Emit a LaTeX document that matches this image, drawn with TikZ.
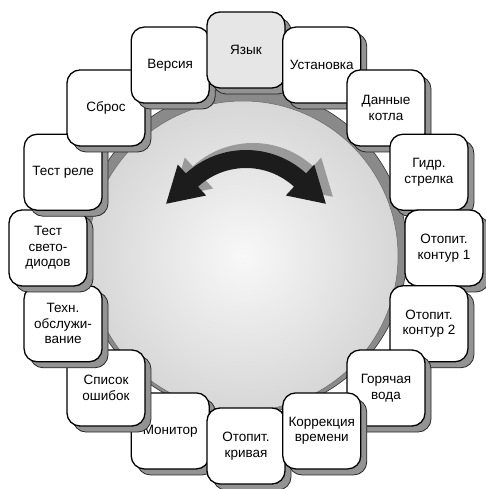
\documentclass[tikz,border=0pt]{standalone}
\usepackage{fontspec}
\setmainfont{Liberation Sans}
\usepackage{tikz}
\usetikzlibrary{arrows.meta, positioning, shadows}
\definecolor{dialCore}{HTML}{F8F8F8}
\definecolor{dialMid}{HTML}{D0D0D0}
\definecolor{dialEdge}{HTML}{A4A4A4}
\definecolor{bezelGray}{HTML}{8A8A8A}
\definecolor{boxShadow}{HTML}{939393}
\definecolor{langFill}{HTML}{E6E6E6}
\definecolor{turnInk}{HTML}{1C1C1C}
\definecolor{turnShadow}{HTML}{9A9A9A}
\pgfdeclareradialshading{dialshade}{\pgfpoint{0bp}{0bp}}{%
  color(0bp)=(dialCore); color(30bp)=(dialMid); color(50bp)=(dialEdge)}

\begin{document}
\begin{tikzpicture}[
  x=1pt, y=1pt,
  menubox/.style={draw=black, fill=white, line width=1.3pt, rounded corners=13pt,
               minimum width=78pt, minimum height=76pt, inner sep=2pt, align=center,
               font=\fontsize{13.5}{15.5}\selectfont,
               drop shadow={shadow xshift=6pt, shadow yshift=-6pt, opacity=1,
                            fill=boxShadow, draw=black!85, line width=0.8pt}}
]
  \useasboundingbox (-246,-241) rectangle (239,248);

  % dial
  \fill[bezelGray, draw=black!80, line width=0.6pt] (-2,-3) circle[radius=163];
  \shadedraw[shading=dialshade, draw=black!60, line width=0.5pt] (-3,-8) circle[radius=155];

  % turning arrow, shadow first
  \foreach \off/\tone in {7/turnShadow, 0/turnInk} {
    \fill[\tone, shift={(\off,9+\off)}]
      (156.2:87.3) -- (132.5:101) -- (132.5:89)
      arc[start angle=132.5, end angle=47.5, radius=89]
      -- (47.5:101) -- (23.8:87.3) -- (47.5:59) -- (47.5:71)
      arc[start angle=47.5, end angle=132.5, radius=71]
      -- (132.5:59) -- cycle;
  }

  % menu ring
  \node[menubox] (m9)  at (-112.5:198) {Монитор};
  \node[menubox] (m10) at (-135:198)   {Список\\ошибок};
  \node[menubox] (m11) at (-157.5:198) {Техн.\\обслужи-\\вание};
  \node[menubox] (m12) at (180:198)    {Тест\\свето-\\диодов};
  \node[menubox] (m13) at (157.5:198)  {Тест реле};
  \node[menubox] (m14) at (135:198)    {Сброс};
  \node[menubox] (m15) at (112.5:198)  {Версия};
  \node[menubox, fill=langFill] (m0) at (90:198) {Язык};
  \node[menubox] (m1)  at (67.5:198)   {Установка};
  \node[menubox] (m2)  at (45:198)     {Данные\\котла};
  \node[menubox] (m3)  at (22.5:198)   {Гидр.\\стрелка};
  \node[menubox] (m4)  at (0:198)      {Отопит.\\контур 1};
  \node[menubox] (m5)  at (-22.5:198)  {Отопит.\\контур 2};
  \node[menubox] (m6)  at (-45:198)    {Горячая\\вода};
  \node[menubox] (m8)  at (-90:198)    {Отопит.\\кривая};
  \node[menubox] (m7)  at (-67.5:198)  {Коррекция\\времени};
\end{tikzpicture}
\end{document}
